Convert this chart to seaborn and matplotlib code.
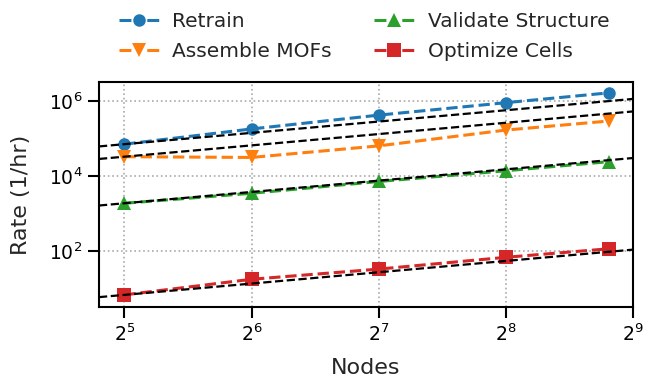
import numpy as np
import pandas as pd
import matplotlib
matplotlib.use("Agg")
import matplotlib.pyplot as plt
import matplotlib.ticker as mticker
from matplotlib.lines import Line2D
import seaborn as sns

# ---- data ----
nodes = [32, 64, 128, 256, 450]
series_names = ["Retrain", "Assemble MOFs", "Validate Structure", "Optimize Cells"]
retrain = [70000, 178000, 415000, 890000, 1630000]
assemble = [32500, 31000, 63000, 166000, 290000]
validate = [1870, 3450, 7100, 13700, 24000]
optimize = [6.8, 17.7, 33, 68, 115]
x_ticks = [32, 64, 128, 256, 512]
y_ticks = [1e2, 1e4, 1e6]

sns.set_style("ticks")
plt.rcParams['font.family'] = ['DejaVu Sans']

fig = plt.figure(figsize=(6.45, 3.79), dpi=100)
ax = fig.add_axes([0.1535, 0.19, 0.8275, 0.5936])

palette = sns.color_palette("tab10")
colors = [palette[0], palette[1], palette[2], palette[3]]
markers = ["o", "v", "^", "s"]
msizes = [9, 10.5, 10.5, 9.5]
values = [retrain, assemble, validate, optimize]

df = pd.DataFrame({
    "Nodes": nodes * 4,
    "Rate": retrain + assemble + validate + optimize,
    "Task": sum([[n] * len(nodes) for n in series_names], []),
})

xmin, xmax = 2 ** 4.8, 2 ** 9
for name, col, mk, ms in zip(series_names, colors, markers, msizes):
    sub = df[df["Task"] == name]
    sns.lineplot(data=sub, x="Nodes", y="Rate", ax=ax, color=col, marker=mk,
                 markersize=ms, markeredgewidth=0, linestyle="--", linewidth=2.2,
                 legend=False)

for vals in values:
    y0 = vals[0]
    xs = np.array([xmin, xmax])
    ax.plot(xs, y0 * xs / nodes[0], color="black", linestyle="--", linewidth=1.6,
            zorder=3)

ax.set_xscale("log", base=2)
ax.set_yscale("log")
ax.set_xlim(xmin, xmax)
ax.set_ylim(10 ** 0.51, 10 ** 6.5)
ax.xaxis.set_major_locator(mticker.FixedLocator(x_ticks))
ax.xaxis.set_major_formatter(mticker.LogFormatterMathtext(base=2))
ax.xaxis.set_minor_locator(mticker.NullLocator())
ax.yaxis.set_major_locator(mticker.FixedLocator(y_ticks))
ax.yaxis.set_major_formatter(mticker.LogFormatterMathtext(base=10))
ax.yaxis.set_minor_locator(mticker.NullLocator())

ax.grid(True, linestyle=":", color="#aaaaaa", linewidth=1.2)
ax.set_axisbelow(True)
for s in ax.spines.values():
    s.set_linewidth(1.5)
    s.set_color("black")
ax.tick_params(axis="both", length=8, width=1.5, labelsize=13.5, color="black",
               labelcolor="black", pad=4)
ax.set_xlabel("Nodes", fontsize=16, labelpad=9)
ax.set_ylabel("Rate (1/hr)", fontsize=16, labelpad=13)

handles = [Line2D([], [], color=c, marker=m, markersize=ms, markeredgewidth=0,
                  linewidth=2.2, linestyle=(0, (3.9, 5.2)))
           for c, m, ms in zip(colors, markers, msizes)]
fig.legend(handles, series_names, loc="upper left",
           bbox_to_anchor=(0.1565, 1.016), ncol=2, frameon=False, fontsize=14.5,
           handlelength=2.0, handletextpad=0.65, columnspacing=2.1,
           labelspacing=0.55)

fig.savefig("out.png", dpi=100)
